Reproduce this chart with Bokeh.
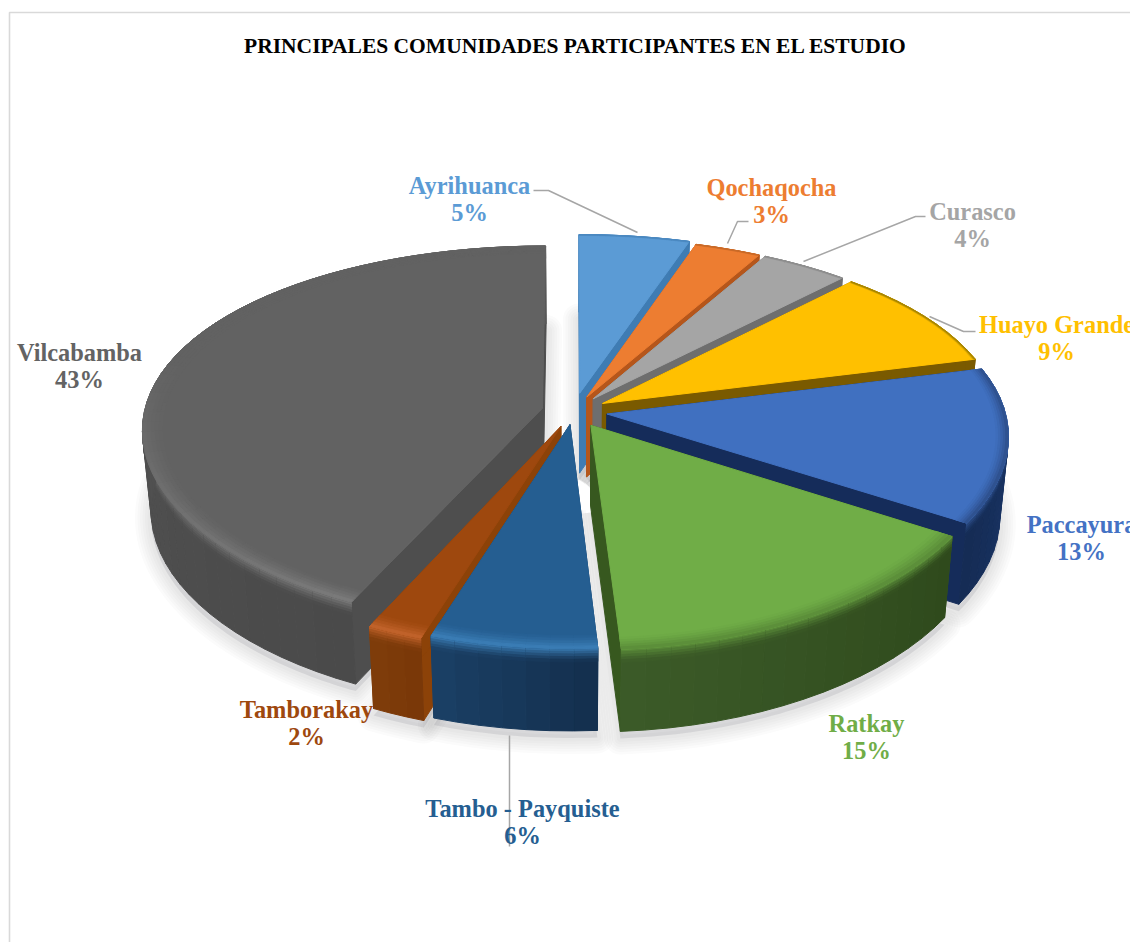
from bokeh.core.properties import value
from bokeh.embed import file_html
from bokeh.models import ColumnDataSource
from bokeh.plotting import figure
from bokeh.resources import INLINE
import numpy as np

# Survey results: share of participants per community, clockwise from the top.
communities = ["Ayrihuanca", "Qochaqocha", "Curasco", "Huayo Grande", "Paccayura",
               "Ratkay", "Tambo - Payquiste", "Tamborakay", "Vilcabamba"]
shares = [5, 3, 4, 9, 13, 15, 6, 2, 43]
title_text = "PRINCIPALES COMUNIDADES PARTICIPANTES EN EL ESTUDIO"

top_colors = ["#5b9bd5", "#ed7d31", "#a5a5a5", "#ffc000", "#4070c0",
              "#70ad47", "#255e91", "#9e480e", "#626262"]
cut_colors = ["#3f7cb3", "#b5561b", "#6e6e6e", "#7a5a00", "#152c5a",
              "#37581f", "#1c466e", "#8c4208", "#4e4e4e"]
wall_from = ["#3f7cb3", "#b5561b", "#6e6e6e", "#7a5a00", "#1c3a70",
             "#2f4a1c", "#14304f", "#7a3808", "#4a4a4a"]
wall_to = ["#3f7cb3", "#b5561b", "#6e6e6e", "#7a5a00", "#152c55",
           "#3b5a28", "#1a3f64", "#7e3c0a", "#585858"]
rim_colors = ["#4a88c0", "#c96a28", "#8e8e8e", "#a88600", "#2f5290",
              "#5c8f3a", "#3a7cb4", "#c0622a", "#7a7a7a"]
rim_widths = [0.006, 0.006, 0.006, 0.008, 0.03, 0.045, 0.05, 0.05, 0.05]
explode = [0.10, 0.085, 0.085, 0.085, 0.085, 0.085, 0.07, 0.085, 0.08]
paint_order = [0, 1, 2, 3, 4, 8, 7, 6, 5]

# Camera model for the tilted disc.
CX, CY = 573.0, 411.0
RX, RY = 398.0, 187.0
PERSP_X, PERSP_Y = 0.11, 0.147
DEPTH = 80.0


def project(u, v, drop=0.0):
    x = CX + u * RX / (1.0 - PERSP_X * v)
    y = CY + v * RY / (1.0 - PERSP_Y * v)
    x = CX + (x - CX) * (1.0 - 0.02 * drop)
    y = y + drop * (DEPTH + 2.0 * v)
    return x, y


def rgb(h):
    return np.array([int(h[i:i + 2], 16) for i in (1, 3, 5)], dtype=float)


def mix(a, b, t):
    c = rgb(a) * (1 - t) + rgb(b) * t
    return "#%02x%02x%02x" % tuple(int(round(float(q))) for q in c)


fractions = np.cumsum([0] + shares) / sum(shares)
starts = fractions[:-1] * 2 * np.pi
ends = fractions[1:] * 2 * np.pi


def polar(i, r, th, drop=0.0):
    mid = 0.5 * (starts[i] + ends[i])
    u = explode[i] * np.sin(mid) + r * np.sin(th)
    v = -(explode[i] * np.cos(mid) + r * np.cos(th))
    return project(u, v, drop)


def footprint(i, drop):
    th = np.linspace(starts[i], ends[i], max(6, int(np.degrees(ends[i] - starts[i]))))
    x, y = polar(i, np.ones_like(th), th, drop)
    ax, ay = polar(i, 0.0, 0.0, drop)
    return np.r_[ax, x, ax], np.r_[ay, y, ay]


xs, ys, fills = [], [], []


def add(x, y, color):
    xs.append(list(map(float, x)))
    ys.append(list(map(float, y)))
    fills.append(color)


def band(i, t0, t1, r0, r1, d0, d1, color):
    a, b = polar(i, r0, t0, d0), polar(i, r0, t1, d0)
    c, d = polar(i, r1, t1, d1), polar(i, r1, t0, d1)
    add([a[0], b[0], c[0], d[0]], [a[1], b[1], c[1], d[1]], color)


def rim_fade(i, t0, t1):
    # The highlight on the large wedge dies away as its rim turns towards the back.
    if i == 8:
        return float(np.clip((5.0 - 0.5 * (t0 + t1)) / 1.4, 0.0, 1.0))
    return 1.0


for i in paint_order:
    # Flat cut faces on both sides of the wedge.
    for th in (starts[i], ends[i]):
        a, b = polar(i, 0.0, th), polar(i, 1.0, th)
        c, d = polar(i, 1.0, th, 1.0), polar(i, 0.0, th, 1.0)
        add([a[0], b[0], c[0], d[0]], [a[1], b[1], c[1], d[1]], cut_colors[i])

    n = max(3, int(np.degrees(ends[i] - starts[i]) / 3.0))
    edges = np.linspace(starts[i], ends[i], n + 1)
    soft_edge = rim_widths[i] >= 0.03

    # Curved outer wall, shaded strip by strip with a soft transition at its top.
    for j in range(n):
        t0, t1 = edges[j], edges[j + 1]
        wall = mix(wall_from[i], wall_to[i], j / max(1, n - 1))
        band(i, t0, t1, 1.0, 1.0, 0.0, 1.0, wall)
        if soft_edge:
            steps = 5
            fade = rim_fade(i, t0, t1)
            for g in range(steps):
                w = (1 - (g + 0.5) / steps) ** 1.3 * (0.25 + 0.75 * fade)
                band(i, t0, t1, 1.0, 1.0, 0.16 * g / steps, 0.16 * (g + 1) / steps,
                     mix(wall, rim_colors[i], w))

    # Top face.
    fx, fy = footprint(i, 0.0)
    add(fx, fy, top_colors[i])

    # Soft bevel along the outer edge of the top face.
    rings = 5
    for q in range(rings):
        r0 = 1 - rim_widths[i] * (rings - q) / rings
        r1 = 1 - rim_widths[i] * (rings - q - 1) / rings
        weight = ((q + 1) / rings) ** 1.4
        for j in range(n):
            t0, t1 = edges[j], edges[j + 1]
            band(i, t0, t1, r0, r1, 0.0, 0.0,
                 mix(top_colors[i], rim_colors[i], weight * rim_fade(i, t0, t1)))

p = figure(width=1130, height=942, x_range=(0, 1130), y_range=(942, 0),
           output_backend="svg", toolbar_location=None, min_border=0,
           background_fill_color="white", border_fill_color="white")
p.axis.visible = False
p.grid.visible = False
p.outline_line_color = None

# Chart frame: only the top and left edges fall inside the page.
p.line([9, 9, 1130], [942, 12, 12], line_color="#d9d9d9", line_width=1.6)

# Soft ground shadow below every wedge.
SHADOW_DROP = 7
for width in (32, 27, 22, 17, 12, 7):
    sx, sy = [], []
    for i in range(len(shares)):
        fx, fy = footprint(i, 1.0)
        sx.append(list(map(float, fx)))
        sy.append(list(map(float, fy + SHADOW_DROP)))
    p.multi_line(sx, sy, line_color="#303048", line_alpha=0.02, line_width=width,
                 line_join="round")
for i in range(len(shares)):
    fx, fy = footprint(i, 1.0)
    p.patch(fx, fy + SHADOW_DROP, fill_color="#303048", fill_alpha=0.1, line_color=None)

# Leader lines from the labels to their wedges.
leaders = [([533, 548, 637], [190, 190, 232]),
           ([748, 737, 727], [221, 221, 243]),
           ([925, 915, 803], [216, 216, 261]),
           ([975, 963, 929], [331, 331, 316]),
           ([509, 509], [735, 846])]
p.multi_line([l[0] for l in leaders], [l[1] for l in leaders],
             line_color="#a6a6a6", line_width=1.5)

source = ColumnDataSource(dict(xs=xs, ys=ys, fill=fills))
p.patches("xs", "ys", source=source, fill_color="fill", line_color="fill", line_width=1.0)

# Wedge labels, name over percentage.
label_xy = [(469, 185), (771, 187), (972, 211), (1056, 324), (1081, 524),
            (866, 723), (522, 808), (306, 709), (79, 352)]
label_colors = ["#5b9bd5", "#ed7d31", "#a5a5a5", "#ffc000", "#4472c4",
                "#70ad47", "#255e91", "#9e480e", "#636363"]
LINE_STEP = 27
p.text([a for a, _ in label_xy], [b for _, b in label_xy], text=communities,
       text_color=label_colors, text_font=value("Liberation Serif"), text_font_style="bold",
       text_font_size="24.4px", text_align="center", text_baseline="middle")
p.text([a for a, _ in label_xy], [b + LINE_STEP for _, b in label_xy],
       text=["%d%%" % s for s in shares],
       text_color=label_colors, text_font=value("Liberation Serif"), text_font_style="bold",
       text_font_size="24.4px", text_align="center", text_baseline="middle")

p.text([575], [45], text=[title_text], text_color="black",
       text_font=value("Liberation Serif"), text_font_style="bold",
       text_font_size="21.5px", text_align="center", text_baseline="middle")

open("out.html", "w").write(file_html(p, INLINE))
